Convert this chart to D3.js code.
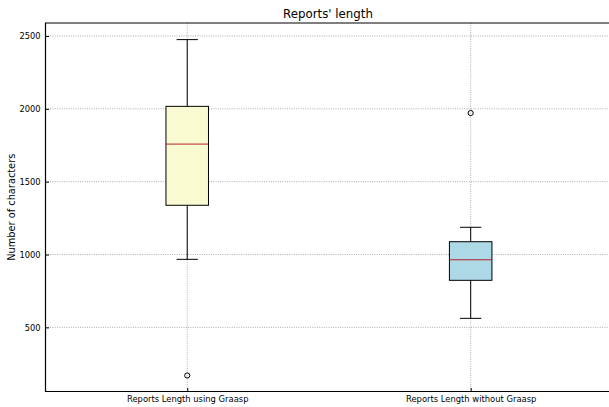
<!DOCTYPE html>
<html><head><meta charset="utf-8">
<script src="https://cdn.jsdelivr.net/npm/d3@7"></script>
<style>body{margin:0;background:#fff}svg{display:block}text{font-family:"DejaVu Sans",sans-serif;fill:#000}</style>
</head><body><svg id="c" width="609" height="407"></svg>
<script>
const categories = ["Reports Length using Graasp", "Reports Length without Graasp"];
const whiskerLow = [967, 562];
const q1 = [1338, 823];
const median = [1758, 964];
const q3 = [2017, 1088];
const whiskerHigh = [2475, 1187];
const outliers = [[170], [1971]];
const fills = ["#fafad2", "#add8e6"];
const yTicks = [500, 1000, 1500, 2000, 2500];

const svg = d3.select("#c");
const L = 45.5, R = 612.4, T = 23, B = 391.5;
const x = d3.scaleLinear().domain([0.5, 2.5]).range([L, R]);
const y = d3.scaleLinear().domain([60, 2589]).range([B, T]);

// grid
const g = svg.append("g");
g.selectAll(".gy").data(yTicks).join("line")
  .attr("x1", L).attr("x2", R).attr("y1", d => y(d)).attr("y2", d => y(d))
  .attr("stroke", "#999").attr("stroke-width", 0.8).attr("stroke-dasharray", "1,1.3");
g.selectAll(".gx").data(categories).join("line")
  .attr("x1", (d, i) => x(i + 1)).attr("x2", (d, i) => x(i + 1)).attr("y1", T).attr("y2", B)
  .attr("stroke", "#999").attr("stroke-width", 0.8).attr("stroke-dasharray", "1,1.3");

// boxes
const bw = 0.15, cw = 0.075;
categories.forEach((c, i) => {
  const p = i + 1;
  const bx = svg.append("g");
  bx.append("line").attr("x1", x(p)).attr("x2", x(p)).attr("y1", y(whiskerLow[i])).attr("y2", y(q1[i])).attr("stroke", "#000").attr("stroke-width", 1);
  bx.append("line").attr("x1", x(p)).attr("x2", x(p)).attr("y1", y(q3[i])).attr("y2", y(whiskerHigh[i])).attr("stroke", "#000").attr("stroke-width", 1);
  bx.append("line").attr("x1", x(p - cw / 2)).attr("x2", x(p + cw / 2)).attr("y1", y(whiskerLow[i])).attr("y2", y(whiskerLow[i])).attr("stroke", "#000").attr("stroke-width", 1);
  bx.append("line").attr("x1", x(p - cw / 2)).attr("x2", x(p + cw / 2)).attr("y1", y(whiskerHigh[i])).attr("y2", y(whiskerHigh[i])).attr("stroke", "#000").attr("stroke-width", 1);
  bx.append("rect").attr("x", x(p - bw / 2)).attr("width", x(p + bw / 2) - x(p - bw / 2))
    .attr("y", y(q3[i])).attr("height", y(q1[i]) - y(q3[i]))
    .attr("fill", fills[i]).attr("stroke", "#000").attr("stroke-width", 1);
  bx.append("line").attr("x1", x(p - bw / 2)).attr("x2", x(p + bw / 2)).attr("y1", y(median[i])).attr("y2", y(median[i])).attr("stroke", "#b5202a").attr("stroke-width", 1);
  bx.selectAll("circle").data(outliers[i]).join("circle")
    .attr("cx", x(p)).attr("cy", d => y(d)).attr("r", 2.6).attr("fill", "none").attr("stroke", "#000").attr("stroke-width", 1);
});

// axes
const yAxis = d3.axisLeft(y).tickValues(yTicks).tickFormat(d3.format("d")).tickSizeInner(-3.5).tickSizeOuter(0).tickPadding(5);
const ya = svg.append("g").attr("transform", `translate(${L},0)`).call(yAxis);
ya.select(".domain").remove();
ya.selectAll("text").attr("font-size", 8.3).attr("font-family", "DejaVu Sans").attr("fill", "#000");
ya.selectAll("line").attr("stroke", "#000");

const xAxis = d3.axisBottom(x).tickValues([1, 2]).tickFormat((d) => categories[d - 1]).tickSizeInner(-3.5).tickSizeOuter(0).tickPadding(5);
const xa = svg.append("g").attr("transform", `translate(0,${B})`).call(xAxis);
xa.select(".domain").remove();
xa.selectAll("text").attr("font-size", 8.4).attr("font-family", "DejaVu Sans").attr("fill", "#000");
xa.selectAll("line").attr("stroke", "#000");

// spines
svg.append("path").attr("d", `M${R},${T}H${L}V${B}H${R}`).attr("fill", "none").attr("stroke", "#000").attr("stroke-width", 1.2);

svg.append("text").attr("x", 328).attr("y", 18).attr("text-anchor", "middle").attr("font-size", 11.8).text("Reports' length");
svg.append("text").attr("transform", `translate(15,${(T + B) / 2}) rotate(-90)`).attr("text-anchor", "middle").attr("font-size", 9.8).text("Number of characters");
</script></body></html>
